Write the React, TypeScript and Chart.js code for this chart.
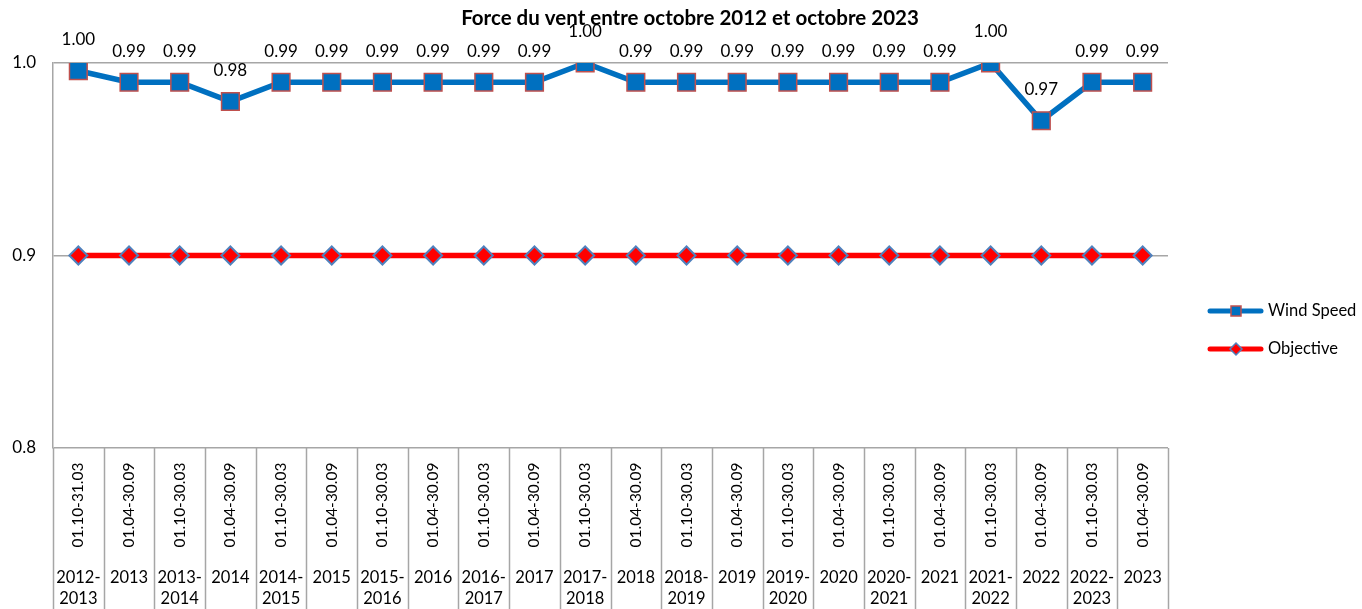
import React, { useEffect, useRef } from "react";
import { Chart, registerables } from "chart.js";
Chart.register(...registerables);

const titleText = "Force du vent entre octobre 2012 et octobre 2023";
const periods = [
  "01.10-31.03", "01.04-30.09", "01.10-30.03", "01.04-30.09", "01.10-30.03", "01.04-30.09",
  "01.10-30.03", "01.04-30.09", "01.10-30.03", "01.04-30.09", "01.10-30.03", "01.04-30.09",
  "01.10-30.03", "01.04-30.09", "01.10-30.03", "01.04-30.09", "01.10-30.03", "01.04-30.09",
  "01.10-30.03", "01.04-30.09", "01.10-30.03", "01.04-30.09",
];
const seasons = [
  ["2012-", "2013"], ["2013"], ["2013-", "2014"], ["2014"], ["2014-", "2015"], ["2015"],
  ["2015-", "2016"], ["2016"], ["2016-", "2017"], ["2017"], ["2017-", "2018"], ["2018"],
  ["2018-", "2019"], ["2019"], ["2019-", "2020"], ["2020"], ["2020-", "2021"], ["2021"],
  ["2021-", "2022"], ["2022"], ["2022-", "2023"], ["2023"],
];
const windSpeed = [
  0.996, 0.99, 0.99, 0.98, 0.99, 0.99, 0.99, 0.99, 0.99, 0.99, 1.0,
  0.99, 0.99, 0.99, 0.99, 0.99, 0.99, 0.99, 1.0, 0.97, 0.99, 0.99,
];
const objective = [
  0.9, 0.9, 0.9, 0.9, 0.9, 0.9, 0.9, 0.9, 0.9, 0.9, 0.9,
  0.9, 0.9, 0.9, 0.9, 0.9, 0.9, 0.9, 0.9, 0.9, 0.9, 0.9,
];
const yMin = 0.8;
const yMax = 1.0;
const yStep = 0.1;
const seriesNames = ["Wind Speed", "Objective"];

const FONT = "Lato, 'Open Sans', sans-serif";
const GRID = "#A6A6A6";
const BLUE = "#0070C0";
const RED = "#FF0000";
const SQ_BORDER = "#C0504D";
const DIA_BORDER = "#4F81BD";

const overlay = {
  id: "overlay",
  afterDraw(chart: any) {
    const ctx = chart.ctx;
    const xs = chart.scales.x;
    const area = chart.chartArea;
    ctx.save();
    // title
    ctx.fillStyle = "#000";
    ctx.font = `bold 20.5px ${FONT}`;
    ctx.textAlign = "center";
    ctx.textBaseline = "middle";
    ctx.fillText(titleText, 690, 18);

    // data labels
    ctx.font = `17px ${FONT}`;
    const meta = chart.getDatasetMeta(0);
    meta.data.forEach((pt: any, i: number) => {
      ctx.fillText(windSpeed[i].toFixed(2), pt.x, pt.y - 31);
    });

    // category table
    ctx.strokeStyle = GRID;
    ctx.lineWidth = 1.5;
    const bottom = chart.height;
    for (let i = 0; i <= periods.length; i++) {
      const x = Math.round(xs.getPixelForValue(i - 0.5)) + 0.5;
      ctx.beginPath();
      ctx.moveTo(x, area.bottom);
      ctx.lineTo(x, bottom);
      ctx.stroke();
    }
    ctx.fillStyle = "#000";
    ctx.font = `15.5px ${FONT}`;
    periods.forEach((p, i) => {
      const x = xs.getPixelForValue(i);
      ctx.save();
      ctx.translate(x, 505);
      ctx.rotate(-Math.PI / 2);
      ctx.textAlign = "center";
      ctx.textBaseline = "middle";
      ctx.fillText(p, 0, 0);
      ctx.restore();
    });
    ctx.font = `16.5px ${FONT}`;
    ctx.textAlign = "center";
    ctx.textBaseline = "middle";
    seasons.forEach((lines, i) => {
      const x = xs.getPixelForValue(i);
      lines.forEach((l, j) => ctx.fillText(l, x, 578 + j * 21));
    });

    // legend
    const legendRows = [
      { y: 311, color: BLUE, name: seriesNames[0], shape: "rect" },
      { y: 349, color: RED, name: seriesNames[1], shape: "diamond" },
    ];
    legendRows.forEach((r) => {
      ctx.strokeStyle = r.color;
      ctx.lineWidth = 5;
      ctx.lineCap = "round";
      ctx.beginPath();
      ctx.moveTo(1210, r.y);
      ctx.lineTo(1261, r.y);
      ctx.stroke();
      const cx = 1236;
      if (r.shape === "rect") {
        ctx.fillStyle = BLUE;
        ctx.strokeStyle = SQ_BORDER;
        ctx.lineWidth = 1.5;
        ctx.fillRect(cx - 5, r.y - 5, 10, 10);
        ctx.strokeRect(cx - 5, r.y - 5, 10, 10);
      } else {
        ctx.fillStyle = RED;
        ctx.strokeStyle = DIA_BORDER;
        ctx.lineWidth = 1.5;
        ctx.beginPath();
        ctx.moveTo(cx, r.y - 6);
        ctx.lineTo(cx + 6, r.y);
        ctx.lineTo(cx, r.y + 6);
        ctx.lineTo(cx - 6, r.y);
        ctx.closePath();
        ctx.fill();
        ctx.stroke();
      }
      ctx.fillStyle = "#000";
      ctx.font = `16.5px ${FONT}`;
      ctx.textAlign = "left";
      ctx.textBaseline = "middle";
      ctx.fillText(r.name, 1268, r.y);
    });
    ctx.restore();
  },
};

export default function App() {
  const ref = useRef<HTMLCanvasElement>(null);
  useEffect(() => {
    const chart = new Chart(ref.current as HTMLCanvasElement, {
      type: "line",
      data: {
        labels: periods,
        datasets: [
          {
            label: seriesNames[0],
            data: windSpeed,
            borderColor: BLUE,
            backgroundColor: BLUE,
            borderWidth: 5.5,
            pointStyle: "rect",
            pointRadius: 12.5,
            pointBackgroundColor: BLUE,
            pointBorderColor: SQ_BORDER,
            pointBorderWidth: 1.5,
            order: 0,
          },
          {
            label: seriesNames[1],
            data: objective,
            borderColor: RED,
            backgroundColor: RED,
            borderWidth: 5.5,
            pointStyle: "rectRot",
            pointRadius: 9,
            pointBackgroundColor: RED,
            pointBorderColor: DIA_BORDER,
            pointBorderWidth: 2,
            order: 1,
          },
        ],
      },
      options: {
        responsive: false,
        animation: false,
        events: [],
        layout: { padding: { left: 0, top: 63, right: 194, bottom: 0 } },
        plugins: { legend: { display: false }, title: { display: false }, tooltip: { enabled: false } },
        scales: {
          x: {
            offset: true,
            grid: { display: false },
            border: { display: false },
            ticks: { display: false },
            afterFit: (s: any) => { s.height = 161; },
          },
          y: {
            min: yMin,
            max: yMax,
            grid: { color: GRID, lineWidth: 1.5, drawTicks: false },
            border: { color: GRID, width: 1.5 },
            ticks: {
              stepSize: yStep,
              padding: 17,
              color: "#000",
              font: { family: FONT, size: 17 },
              callback: (v: any) => Number(v).toFixed(1),
            },
            afterFit: (s: any) => { s.width = 53; },
          },
        },
      },
      plugins: [overlay],
    });
    return () => chart.destroy();
  }, []);
  return (
    <div style={{ position: "fixed", left: 0, top: 0, width: 1362, height: 609, background: "#fff" }}>
      <canvas ref={ref} width={1362} height={609} style={{ display: "block" }} />
    </div>
  );
}
